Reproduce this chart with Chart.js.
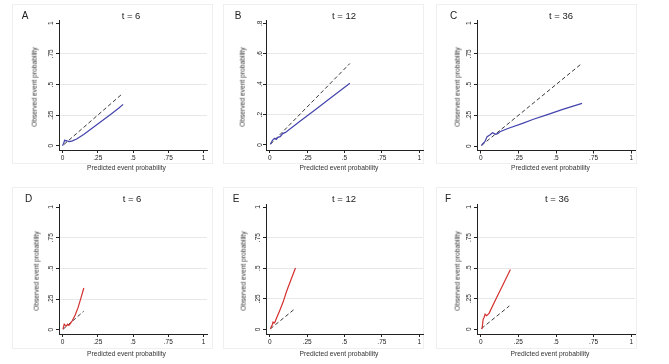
<!DOCTYPE html>
<html>
<head>
<meta charset="utf-8">
<script src="https://cdn.jsdelivr.net/npm/chart.js@4.4.0/dist/chart.umd.min.js"></script>
<style>
  body { margin: 0; background: #fff; }
  #fig { position: relative; width: 669px; height: 364px; background: #fff; overflow: hidden;
         font-family: 'Liberation Sans', Arial, sans-serif; color: #111; }
  .box { position: absolute; border: 1px solid #efefef; box-sizing: border-box; }
  canvas { position: absolute; }
  .txt { position: absolute; white-space: nowrap; line-height: 1; transform: translate(-50%, -50%); }
  .letter { font-size: 10px; color: #222; }
  .ttl { font-size: 9.5px; color: #222; }
  .axt { font-size: 6.7px; color: #333; }
  .rot { transform: translate(-50%, -50%) rotate(-90deg); }
</style>
</head>
<body>
<div id="fig"></div>
<script>
// ---- data ----
const xTicks = [0, 0.25, 0.5, 0.75, 1];
const xTickLabels = ['0', '.25', '.5', '.75', '1'];
const yTicksQ = [0, 0.25, 0.5, 0.75, 1];
const yTickLabelsQ = ['0', '.25', '.5', '.75', '1'];
const yTicksB = [0, 0.2, 0.4, 0.6, 0.8];
const yTickLabelsB = ['0', '.2', '.4', '.6', '.8'];

// A: t = 6
const predA = [0, 0.008, 0.015, 0.022, 0.03, 0.04, 0.05, 0.07, 0.1, 0.15, 0.2, 0.25, 0.3, 0.35, 0.4, 0.43];
const obsA  = [0, 0.02, 0.045, 0.04, 0.042, 0.035, 0.033, 0.04, 0.055, 0.092, 0.135, 0.178, 0.22, 0.263, 0.308, 0.338];
const diagA = [0.01, 0.428];
// B: t = 12
const predB = [0.005, 0.012, 0.022, 0.033, 0.044, 0.055, 0.07, 0.087, 0.105, 0.2, 0.3, 0.4, 0.536];
const obsB  = [0.005, 0.02, 0.035, 0.044, 0.037, 0.05, 0.055, 0.075, 0.083, 0.154, 0.229, 0.304, 0.406];
const diagB = [0.005, 0.536];
// C: t = 36
const predC = [0.005, 0.009, 0.027, 0.042, 0.06, 0.078, 0.087, 0.1, 0.115, 0.127, 0.18, 0.278, 0.35, 0.433, 0.55, 0.673];
const obsC  = [0.005, 0.014, 0.035, 0.076, 0.09, 0.108, 0.103, 0.095, 0.103, 0.116, 0.143, 0.185, 0.218, 0.252, 0.3, 0.347];
const diagC = [0.005, 0.673];
// D: t = 6
const predD = [0.003, 0.012, 0.02, 0.028, 0.035, 0.045, 0.055, 0.07, 0.09, 0.11, 0.13, 0.151];
const obsD  = [0.005, 0.045, 0.035, 0.03, 0.045, 0.035, 0.05, 0.075, 0.12, 0.18, 0.255, 0.34];
const diagD = [0.003, 0.15];
// E: t = 12
const predE = [0.004, 0.012, 0.018, 0.022, 0.028, 0.033, 0.045, 0.067, 0.09, 0.111, 0.14, 0.172];
const obsE  = [0.004, 0.025, 0.04, 0.06, 0.055, 0.054, 0.09, 0.155, 0.225, 0.305, 0.4, 0.501];
const diagE = [0.004, 0.17];
// F: t = 36
const predF = [0.007, 0.011, 0.016, 0.022, 0.029, 0.038, 0.044, 0.056, 0.1, 0.15, 0.197];
const obsF  = [0.0, 0.027, 0.082, 0.095, 0.123, 0.11, 0.115, 0.131, 0.245, 0.37, 0.488];
const diagF = [0.005, 0.19];

const panelLetters = ['A', 'B', 'C', 'D', 'E', 'F'];
const panelTitles = ['t = 6', 't = 12', 't = 36', 't = 6', 't = 12', 't = 36'];
const xTitle = 'Predicted event probability';
const yTitle = 'Observed event probability';

const BLUE = '#4343ad';
const RED = '#d42f2f';

Chart.defaults.font.family = "'Liberation Sans', Arial, sans-serif";

const fig = document.getElementById('fig');

// layout of each panel (absolute px in the 669x364 figure)
const panels = [
  { x0: 0,   y0: 0,   left: 59,  right: 207, top: 20,  bottom: 150, yMin: -0.035, yMax: 1.027, yTicks: yTicksQ, yLabels: yTickLabelsQ,
    pred: predA, obs: obsA, diag: diagA, color: BLUE,
    box: [12, 4, 201, 160], letter: [25, 15.5], title: [131, 15.5], xt: [126.5, 168], yt: [35, 87] },
  { x0: 223, y0: 0,   left: 266, right: 423, top: 20,  bottom: 150, yMin: -0.033, yMax: 0.822, yTicks: yTicksB, yLabels: yTickLabelsB,
    pred: predB, obs: obsB, diag: diagB, color: BLUE,
    box: [223, 4, 201, 160], letter: [238, 15.5], title: [344, 15.5], xt: [339, 168], yt: [243, 87] },
  { x0: 446, y0: 0,   left: 477, right: 635, top: 20,  bottom: 150.5, yMin: -0.036, yMax: 1.025, yTicks: yTicksQ, yLabels: yTickLabelsQ,
    pred: predC, obs: obsC, diag: diagC, color: BLUE,
    box: [436, 4, 201, 160], letter: [453.5, 15.5], title: [561, 15.5], xt: [550.5, 168], yt: [458, 87] },
  { x0: 0,   y0: 182, left: 59,  right: 207, top: 204, bottom: 334, yMin: -0.035, yMax: 1.025, yTicks: yTicksQ, yLabels: yTickLabelsQ,
    pred: predD, obs: obsD, diag: diagD, color: RED,
    box: [12, 187, 201, 162], letter: [28.5, 198.7], title: [132, 198.7], xt: [126.5, 353.7], yt: [37, 271] },
  { x0: 223, y0: 182, left: 266, right: 423, top: 204, bottom: 334, yMin: -0.038, yMax: 1.025, yTicks: yTicksQ, yLabels: yTickLabelsQ,
    pred: predE, obs: obsE, diag: diagE, color: RED,
    box: [223, 187, 201, 162], letter: [236, 198.7], title: [344, 198.7], xt: [339, 353.7], yt: [244, 271] },
  { x0: 446, y0: 182, left: 477, right: 635, top: 204, bottom: 334, yMin: -0.04, yMax: 1.025, yTicks: yTicksQ, yLabels: yTickLabelsQ,
    pred: predF, obs: obsF, diag: diagF, color: RED,
    box: [436, 187, 201, 162], letter: [448, 198.7], title: [557, 198.7], xt: [550, 353.7], yt: [458, 271] }
];

const W = 223, H = 182;

function addText(cls, text, pos) {
  const d = document.createElement('div');
  d.className = 'txt ' + cls;
  d.textContent = text;
  d.style.left = pos[0] + 'px';
  d.style.top = pos[1] + 'px';
  fig.appendChild(d);
}

panels.forEach((p, k) => {
  const b = document.createElement('div');
  b.className = 'box';
  b.style.left = p.box[0] + 'px'; b.style.top = p.box[1] + 'px';
  b.style.width = p.box[2] + 'px'; b.style.height = p.box[3] + 'px';
  fig.appendChild(b);

  const cv = document.createElement('canvas');
  cv.width = W; cv.height = H;
  cv.style.left = p.x0 + 'px'; cv.style.top = p.y0 + 'px';
  fig.appendChild(cv);

  const curve = p.pred.map((v, i) => ({ x: v, y: p.obs[i] }));
  const ref = p.diag.map(v => ({ x: v, y: v }));

  new Chart(cv, {
    type: 'line',
    data: {
      datasets: [
        { data: curve, borderColor: p.color, borderWidth: 1.2, pointRadius: 0, tension: 0 },
        { data: ref, borderColor: '#3a3a3a', borderWidth: 1, borderDash: [4, 2.5], pointRadius: 0 }
      ]
    },
    options: {
      responsive: false,
      animation: false,
      events: [],
      layout: { padding: { left: 0, top: p.top - p.y0, right: p.x0 + W - p.right, bottom: 0 } },
      plugins: { legend: { display: false }, tooltip: { enabled: false } },
      scales: {
        x: {
          type: 'linear', min: -0.025, max: 1.025,
          afterFit: s => { s.height = p.y0 + H - p.bottom; },
          afterBuildTicks: s => { s.ticks = xTicks.map(v => ({ value: v })); },
          ticks: { callback: (v, i) => xTickLabels[i], font: { size: 6.5 }, color: '#222',
                   padding: 1, maxRotation: 0, autoSkip: false },
          grid: { drawOnChartArea: false, tickLength: 3, tickColor: '#222' },
          border: { color: '#222', width: 1 }
        },
        y: {
          type: 'linear', min: p.yMin, max: p.yMax,
          afterFit: s => { s.width = p.left - p.x0; },
          afterBuildTicks: s => { s.ticks = p.yTicks.map(v => ({ value: v })); },
          ticks: { callback: (v, i) => p.yLabels[i], font: { size: 6.5 }, color: '#222',
                   minRotation: 90, maxRotation: 90, crossAlign: 'center', padding: 0, autoSkip: false },
          grid: {
            color: c => (c.tick && c.tick.value > 0 && c.index < p.yTicks.length - 1) ? '#e8e8e8' : 'rgba(0,0,0,0)',
            tickLength: 3, tickColor: '#222'
          },
          border: { color: '#222', width: 1 }
        }
      }
    }
  });

  addText('letter', panelLetters[k], p.letter);
  addText('ttl', panelTitles[k], p.title);
  addText('axt', xTitle, p.xt);
  addText('axt rot', yTitle, p.yt);
});
</script>
</body>
</html>
